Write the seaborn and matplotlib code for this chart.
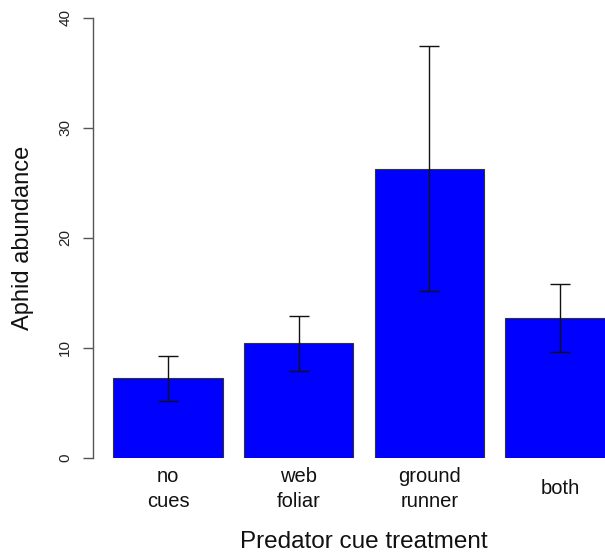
import matplotlib
matplotlib.use("Agg")
import matplotlib.pyplot as plt
import seaborn as sns
import pandas as pd

categories = ["no\ncues", "web\nfoliar", "ground\nrunner", "both"]
means = [7.23, 10.42, 26.31, 12.73]
errors = [2.05, 2.49, 11.15, 3.10]
y_ticks = [0, 10, 20, 30, 40]
x_title = "Predator cue treatment"
y_title = "Aphid abundance"

sns.set_theme(style="white")
plt.rcParams["font.family"] = ["Liberation Sans", "DejaVu Sans"]

df = pd.DataFrame({"treatment": categories, "aphids": means})

W, H = 605, 552
Y0, Y40 = 458.0, 18.0
fig = plt.figure(figsize=(W / 100, H / 100), dpi=100)
ax = fig.add_axes([93 / W, (H - Y0) / H, (W - 93) / W, (Y0 - Y40) / H])

sns.barplot(data=df, x="treatment", y="aphids", color="#0000FF", saturation=1,
            width=0.835, edgecolor="#333333", linewidth=0.8, errorbar=None, ax=ax)
ax.errorbar(x=list(range(len(categories))), y=means, yerr=errors, fmt="none",
            ecolor="#111111", elinewidth=1.0, capsize=7.4, capthick=1.0, zorder=5)

ax.set_xlim(-0.574, 3.344)
ax.set_ylim(0, 40)
ax.set_yticks(y_ticks)
ax.set_yticklabels([str(v) for v in y_ticks], rotation=90, va="center", fontsize=11, color="#222222")

for s in ["top", "right", "bottom"]:
    ax.spines[s].set_visible(False)
ax.spines["left"].set_color("#555555")
ax.spines["left"].set_linewidth(1.0)
ax.tick_params(axis="y", direction="out", length=7.0, width=1.0, color="#555555", pad=8, left=True)
ax.tick_params(axis="x", length=0, pad=22.3, labelsize=14.5, colors="#111111")
for lab in ax.get_xticklabels():
    lab.set_verticalalignment("center")
    lab.set_linespacing(1.35)

ax.set_xlabel(x_title, fontsize=17.5, color="#111111")
ax.xaxis.set_label_coords((364 - 93) / (W - 93), -(542 - Y0) / (Y0 - Y40))
ax.xaxis.label.set_verticalalignment("center")
ax.set_ylabel(y_title, fontsize=17, color="#111111")
ax.yaxis.set_label_coords(-(93 - 23) / (W - 93), (Y0 - 238) / (Y0 - Y40))
ax.yaxis.label.set_verticalalignment("center")

fig.savefig("out.png", dpi=100)
